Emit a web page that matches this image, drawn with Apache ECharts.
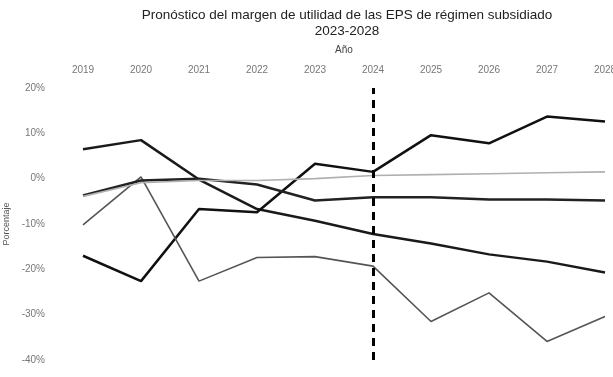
<!DOCTYPE html>
<html>
<head>
<meta charset="utf-8">
<script src="https://cdn.jsdelivr.net/npm/echarts@6/dist/echarts.min.js"></script>
<style>html,body{margin:0;padding:0;background:#fff;}#c{width:613px;height:377px;}</style>
</head>
<body>
<div id="c"></div>
<script>
const years = ['2019','2020','2021','2022','2023','2024','2025','2026','2027','2028'];
const seriesA = [6.5, 8.5, -0.2, -6.7, -9.3, -12.2, -14.3, -16.7, -18.3, -20.7];
const seriesB = [-17.0, -22.6, -6.7, -7.4, 3.3, 1.5, 9.6, 7.8, 13.7, 12.6];
const seriesC = [-10.2, 0.4, -22.6, -17.4, -17.2, -19.3, -31.5, -25.2, -35.9, -30.4];
const seriesD = [-3.7, -0.4, 0.0, -1.3, -4.8, -4.1, -4.1, -4.6, -4.6, -4.8];
const seriesE = [-3.9, -0.9, -0.4, -0.4, 0.0, 0.7, 0.9, 1.1, 1.3, 1.5];
const forecastStart = '2024';
const titleText = 'Pronóstico del margen de utilidad de las EPS de régimen subsidiado\n2023-2028';

const chart = echarts.init(document.getElementById('c'));
function line(data, color, width) {
  return {
    type: 'line', data: data, symbol: 'none', smooth: false,
    lineStyle: { color: color, width: width }, itemStyle: { color: color }
  };
}
const sA = line(seriesA, '#1a1a1a', 2.5);
const sB = line(seriesB, '#111111', 2.5);
const sC = line(seriesC, '#555555', 1.6);
const sD = line(seriesD, '#222222', 2.5);
const sE = line(seriesE, '#b0b0b0', 1.6);
sB.markLine = {
  silent: true, symbol: 'none', label: { show: false },
  lineStyle: { type: [8, 6], color: '#000', width: 3 },
  data: [{ xAxis: forecastStart }]
};
chart.setOption({
  animation: false,
  title: {
    text: titleText, left: 342, top: 2, textAlign: 'center',
    textStyle: { fontFamily: 'Liberation Sans', fontSize: 13.5, fontWeight: 'normal', color: '#222', lineHeight: 16 }
  },
  grid: { left: 83, right: 8, top: 88, bottom: 17, outerBoundsMode: 'none', containLabel: false },
  xAxis: {
    type: 'category', data: years, position: 'top', boundaryGap: false,
    name: 'Año', nameLocation: 'middle', nameGap: 33,
    nameTextStyle: { fontFamily: 'Liberation Sans', fontSize: 10, color: '#444' },
    axisLine: { show: false }, axisTick: { show: false }, splitLine: { show: false },
    axisLabel: { fontFamily: 'Liberation Sans', fontSize: 10, color: '#777', margin: 13, hideOverlap: false }
  },
  yAxis: {
    type: 'value', min: -40, max: 20, interval: 10,
    name: 'Porcentaje', nameLocation: 'middle', nameGap: 72,
    nameTextStyle: { fontFamily: 'Liberation Sans', fontSize: 9, color: '#555' },
    axisLine: { show: false }, axisTick: { show: false }, splitLine: { show: false },
    axisLabel: { formatter: '{value}%', fontFamily: 'Liberation Sans', fontSize: 10, color: '#777', margin: 38 }
  },
  series: [sA, sB, sC, sD, sE]
});
</script>
</body>
</html>
